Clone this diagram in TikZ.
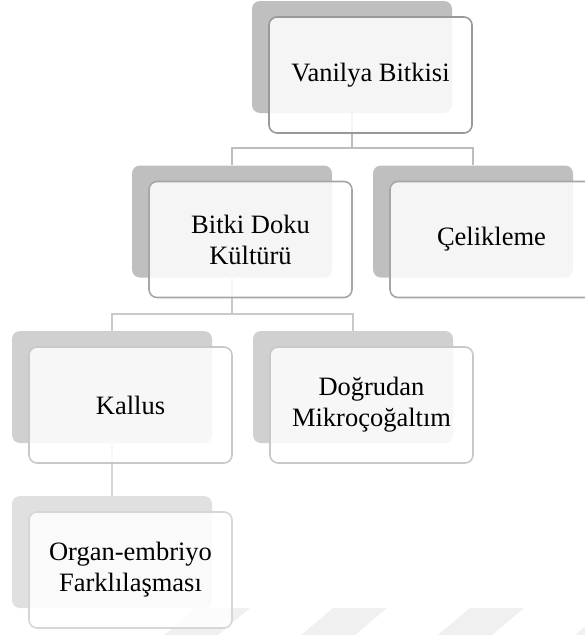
\documentclass[tikz,border=0pt]{standalone}
\usepackage{fontspec}
\setmainfont{Liberation Serif}
\usetikzlibrary{positioning}

\begin{document}
\begin{tikzpicture}[x=1pt,y=-1pt,
    back/.style={rounded corners=8pt,minimum width=200pt,minimum height=112pt,inner sep=0pt},
    front/.style={rounded corners=8pt,minimum width=203pt,minimum height=116pt,inner sep=0pt,
        fill=white,fill opacity=0.85,text opacity=1,line width=1.6pt,align=center,
        font=\fontsize{26.5}{31}\selectfont},
    link/.style={line width=2pt}]
    \useasboundingbox (0,0) rectangle (585,635);
    % faint slabs along the bottom
    \foreach \x in {0,137,274,411}{
        \fill[gray!12] (196+\x,608)--(250+\x,608)--(218+\x,635)--(164+\x,635)--cycle;
    }
    % back cards
    \node[back,fill=gray!50] (vanilyab) at (352,57) {};
    \node[back,fill=gray!50] (bitkib) at (232,221.5) {};
    \node[back,fill=gray!50] (celikb) at (473,221.5) {};
    \node[back,fill=gray!37] (kallusb) at (112,387) {};
    \node[back,fill=gray!37] (dogrub) at (353,387) {};
    \node[back,fill=gray!24] (organb) at (112,552) {};
    % connectors
    \draw[link,gray!52] (vanilyab.south)--++(0,35)-|(bitkib.north);
    \draw[link,gray!52] (vanilyab.south)--++(0,35)-|(celikb.north);
    \draw[link,gray!42] (bitkib.south)--++(0,36)-|(kallusb.north);
    \draw[link,gray!42] (bitkib.south)--++(0,36)-|(dogrub.north);
    \draw[link,gray!33] (kallusb.south)--(organb.north);
    % front cards
    \node[front,draw=gray!80] (vanilya) at ([xshift=18.5pt,yshift=-18pt]vanilyab) {Vanilya Bitkisi};
    \node[front,draw=gray!70] (bitki) at ([xshift=18.5pt,yshift=-18pt]bitkib) {Bitki Doku\\Kültürü};
    \node[front,draw=gray!70] (celik) at ([xshift=18.5pt,yshift=-18pt]celikb) {Çelikleme};
    \node[front,draw=gray!43] (kallus) at ([xshift=18.5pt,yshift=-18pt]kallusb) {Kallus};
    \node[front,draw=gray!43] (dogru) at ([xshift=18.5pt,yshift=-18pt]dogrub) {Doğrudan\\Mikroçoğaltım};
    \node[front,draw=gray!32] (organ) at ([xshift=18.5pt,yshift=-18pt]organb) {Organ-embriyo\\Farklılaşması};
\end{tikzpicture}
\end{document}
